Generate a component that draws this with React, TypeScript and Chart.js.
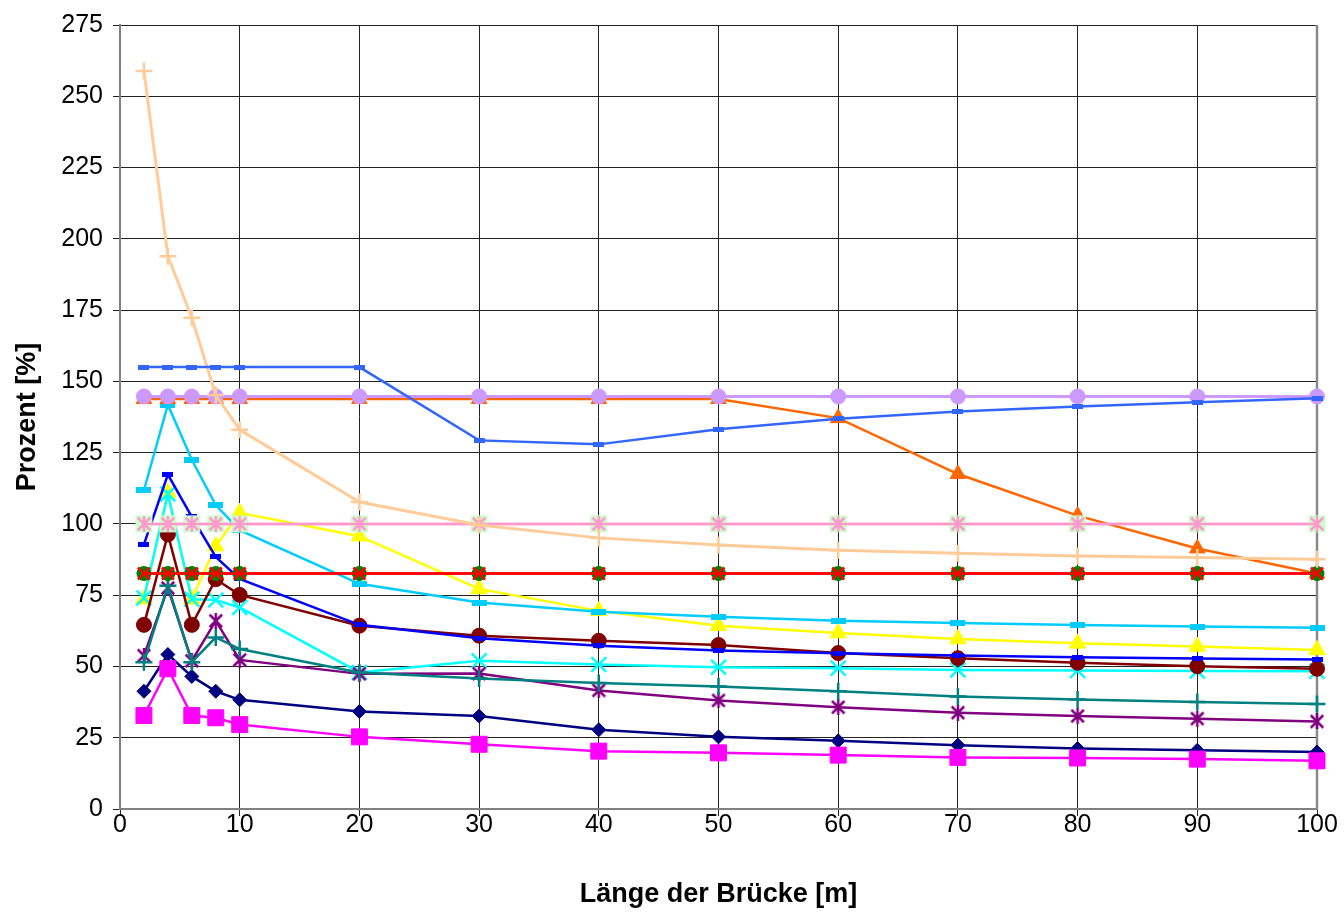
import React, { useEffect, useRef } from "react";
import { Chart, registerables } from "chart.js";
Chart.register(...registerables);

const lengths = [2, 4, 6, 8, 10, 20, 30, 40, 50, 60, 70, 80, 90, 100];
const xTickValues = [0, 10, 20, 30, 40, 50, 60, 70, 80, 90, 100];
const yTickValues = [0, 25, 50, 75, 100, 125, 150, 175, 200, 225, 250, 275];

const navySeries = [41.3, 54.2, 46.5, 41.3, 38.3, 34.2, 32.6, 27.8, 25.3, 23.9, 22.4, 21.2, 20.6, 20.0];
const magentaSeries = [32.8, 49.2, 32.8, 32.0, 29.6, 25.3, 22.7, 20.3, 19.7, 18.9, 18.1, 17.9, 17.5, 16.9];
const yellowSeries = [73.6, 110.9, 73.6, 92.2, 103.9, 95.7, 77.2, 69.5, 64.3, 61.7, 59.6, 58.1, 57.0, 55.8];
const cyanSeries = [74.0, 110.5, 73.6, 73.3, 70.7, 47.9, 52.0, 50.7, 49.7, 49.4, 48.8, 48.6, 48.4, 48.3];
const purpleSeries = [53.8, 77.5, 52.0, 66.0, 52.3, 47.4, 47.5, 41.6, 38.1, 35.7, 33.8, 32.6, 31.7, 30.7];
const maroonSeries = [64.6, 96.3, 64.6, 80.6, 75.1, 64.3, 60.8, 59.0, 57.5, 54.7, 52.9, 51.3, 50.1, 49.2];
const tealSeries = [51.5, 78.3, 51.5, 60.2, 56.1, 47.9, 45.8, 44.2, 43.0, 41.3, 39.5, 38.4, 37.5, 36.8];
const blueSeries = [92.8, 117.3, 102.5, 88.4, 80.7, 64.6, 59.9, 57.3, 55.6, 54.6, 53.8, 53.2, 52.8, 52.4];
const lightBlueSeries = [111.8, 141.8, 122.5, 106.6, 97.8, 79.0, 72.4, 69.2, 67.4, 66.0, 65.2, 64.5, 64.0, 63.6];
const orangeSeries = [143.8, 143.8, 143.8, 143.8, 143.8, 143.8, 143.8, 143.8, 143.8, 137.1, 117.5, 102.9, 91.4, 82.6];
const greenSeries = [82.6, 82.6, 82.6, 82.6, 82.6, 82.6, 82.6, 82.6, 82.6, 82.6, 82.6, 82.6, 82.6, 82.6];
const redSeries = [82.6, 82.6, 82.6, 82.6, 82.6, 82.6, 82.6, 82.6, 82.6, 82.6, 82.6, 82.6, 82.6, 82.6];
const lightGreenSeries = [100, 100, 100, 100, 100, 100, 100, 100, 100, 100, 100, 100, 100, 100];
const pinkSeries = [100, 100, 100, 100, 100, 100, 100, 100, 100, 100, 100, 100, 100, 100];
const lavenderSeries = [144.7, 144.7, 144.7, 144.7, 144.7, 144.7, 144.7, 144.7, 144.7, 144.7, 144.7, 144.7, 144.7, 144.7];
const peachSeries = [258.9, 193.9, 172.3, 145.2, 133.0, 107.7, 99.6, 95.1, 92.6, 90.8, 89.7, 88.7, 88.2, 87.6];
const cornflowerSeries = [155, 155, 155, 155, 155, 155, 129.3, 127.9, 133.2, 136.9, 139.4, 141.2, 142.7, 144.1];

function makeDash(w: number, h: number, color: string) {
  const c = document.createElement("canvas");
  c.width = w;
  c.height = h;
  const ctx = c.getContext("2d")!;
  ctx.fillStyle = color;
  ctx.fillRect(0, 0, w, h);
  return c;
}

function makeAsterisk(size: number, color: string, lw: number) {
  const c = document.createElement("canvas");
  c.width = size;
  c.height = size;
  const ctx = c.getContext("2d")!;
  ctx.strokeStyle = color;
  ctx.lineWidth = lw;
  const m = lw / 2 + 0.5;
  ctx.beginPath();
  ctx.moveTo(m, m);
  ctx.lineTo(size - m, size - m);
  ctx.moveTo(size - m, m);
  ctx.lineTo(m, size - m);
  ctx.moveTo(size / 2, 0);
  ctx.lineTo(size / 2, size);
  ctx.stroke();
  return c;
}

const rightBorder = {
  id: "rightBorder",
  beforeDatasetsDraw(chart: any) {
    const { ctx, chartArea } = chart;
    ctx.save();
    ctx.strokeStyle = "#8a8a8a";
    ctx.lineWidth = 2.5;
    ctx.beginPath();
    ctx.moveTo(chartArea.right, chartArea.top);
    ctx.lineTo(chartArea.right, chartArea.bottom);
    ctx.stroke();
    ctx.restore();
  },
};

export default function App() {
  const ref = useRef<HTMLCanvasElement | null>(null);
  useEffect(() => {
    document.body.style.margin = "0";
    const toPts = (arr: number[]) => lengths.map((x, i) => ({ x, y: arr[i] }));
    const mk = (label: string, arr: number[], color: string, style: any, radius: number, extra: any = {}) => ({
      label,
      data: toPts(arr),
      borderColor: color,
      backgroundColor: color,
      borderWidth: 2.5,
      pointStyle: style,
      pointRadius: radius,
      pointBackgroundColor: color,
      pointBorderColor: color,
      pointBorderWidth: 1,
      tension: 0,
      clip: false,
      ...extra,
    });
    const ds: any[] = [
      mk("navy", navySeries, "#000080", "rectRot", 7),
      mk("magenta", magentaSeries, "#FF00FF", "rect", 11.3),
      mk("yellow", yellowSeries, "#FFFF00", "triangle", 9.5),
      mk("cyan", cyanSeries, "#00FFFF", "crossRot", 10.5, { pointBorderWidth: 2.5 }),
      mk("purple", purpleSeries, "#800080", makeAsterisk(16, "#800080", 2.5), 8),
      mk("maroon", maroonSeries, "#800000", "circle", 7.5),
      mk("teal", tealSeries, "#008080", "cross", 8.5, { pointBorderWidth: 2.5 }),
      mk("blue", blueSeries, "#0000FF", makeDash(11, 5, "#0000FF"), 5),
      mk("lightblue", lightBlueSeries, "#00CCFF", makeDash(15, 6, "#00CCFF"), 7),
      mk("orange", orangeSeries, "#FF6600", "triangle", 9),
      mk("green", greenSeries, "#008000", "circle", 7, { borderColor: "#FF0000" }),
      mk("red", redSeries, "#FF0000", "crossRot", 8.5, { pointBorderWidth: 2.5 }),
      mk("lightgreen", lightGreenSeries, "#CCFFCC", "rect", 11.3, { borderColor: "#FF99CC" }),
      mk("pink", pinkSeries, "#FF99CC", makeAsterisk(16, "#FF99CC", 2.5), 8),
      mk("lavender", lavenderSeries, "#CC99FF", "circle", 7.5, { borderWidth: 3 }),
      mk("peach", peachSeries, "#FFCC99", "cross", 8.5, { borderWidth: 3, pointBorderWidth: 2.5 }),
      mk("cornflower", cornflowerSeries, "#3366FF", makeDash(11, 5, "#3366FF"), 5),
    ];
    ds.forEach((d, i) => (d.order = -i));

    const font = "'Liberation Sans', Arial, sans-serif";
    const chart = new Chart(ref.current!, {
      type: "line",
      data: { datasets: ds },
      options: {
        animation: false,
        responsive: false,
        devicePixelRatio: 1,
        layout: { padding: { top: 22, right: 27, left: 0, bottom: 0 } },
        plugins: { legend: { display: false }, tooltip: { enabled: false } },
        scales: {
          x: {
            type: "linear",
            min: 0,
            max: 100,
            afterBuildTicks: (s: any) => {
              s.ticks = xTickValues.map((v) => ({ value: v }));
            },
            afterFit: (s: any) => {
              s.height = 104;
            },
            ticks: { color: "#000", font: { family: font, size: 25 }, padding: -6, maxRotation: 0, autoSkip: false },
            grid: { color: "#222", lineWidth: 1, tickLength: 7, drawTicks: true },
            border: { color: "#808080", width: 2 },
            title: {
              display: true,
              text: "Länge der Brücke [m]",
              color: "#000",
              font: { family: font, size: 27, weight: "bold" },
              padding: { top: 4, bottom: 2 },
            },
          },
          y: {
            type: "linear",
            min: 0,
            max: 275,
            afterBuildTicks: (s: any) => {
              s.ticks = yTickValues.map((v) => ({ value: v }));
            },
            afterFit: (s: any) => {
              s.width = 120;
            },
            ticks: { color: "#000", font: { family: font, size: 25 }, padding: 10, autoSkip: false },
            grid: { color: "#222", lineWidth: 1, tickLength: 7, drawTicks: true },
            border: { color: "#808080", width: 2 },
            title: {
              display: true,
              text: "Prozent [%]",
              color: "#000",
              font: { family: font, size: 27, weight: "bold" },
              padding: { top: 11, bottom: 0 },
            },
          },
        },
      },
      plugins: [rightBorder],
    });
    return () => chart.destroy();
  }, []);
  return (
    <div style={{ width: 1344, height: 913 }}>
      <canvas ref={ref} width={1344} height={913} style={{ display: "block", width: 1344, height: 913 }} />
    </div>
  );
}
